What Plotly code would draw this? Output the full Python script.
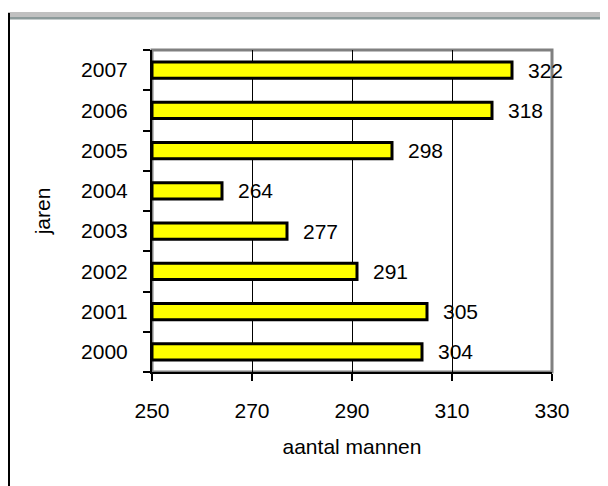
import plotly.graph_objects as go

# jaren en aantal mannen
jaren = ["2000", "2001", "2002", "2003", "2004", "2005", "2006", "2007"]
aantal_mannen = [304, 305, 291, 277, 264, 298, 318, 322]
x_ticks = [250, 270, 290, 310, 330]

basis = 250
FONT = dict(family="Arial, Liberation Sans, sans-serif", size=21, color="black")

# de pagina heeft 8px marge, dus figuur iets kleiner
W, H = 600, 478
OFF = 8


def px_x(px):
    # vensterpixel -> paper (tekengebied 152..552)
    return (px - 152) / 400


def px_y(py):
    # vensterpixel -> paper (tekengebied 50..372)
    return (372 - py) / 322


fig = go.Figure()

fig.add_trace(go.Bar(
    y=jaren,
    x=[v - basis for v in aantal_mannen],
    base=basis,
    orientation="h",
    width=0.4,
    marker=dict(color="#ffff00", line=dict(color="black", width=3)),
    hoverinfo="skip",
))

# waarden naast de balken (y als index op de categorie-as)
for i, v in enumerate(aantal_mannen):
    fig.add_annotation(
        x=v, y=i, xref="x", yref="y",
        text=str(v), showarrow=False,
        xanchor="left", xshift=14,
        font=FONT,
    )

# rand van het tekengebied (grijs boven en rechts)
fig.add_shape(type="rect", xref="paper", yref="paper",
              x0=0, x1=1, y0=0, y1=1,
              line=dict(color="#808080", width=3), layer="below")

# kader van het werkblad
fig.add_shape(type="rect", xref="paper", yref="paper",
              x0=px_x(8), x1=px_x(606), y0=px_y(17), y1=px_y(12),
              fillcolor="#c0c0c0", line=dict(width=0))
fig.add_shape(type="rect", xref="paper", yref="paper",
              x0=px_x(9), x1=px_x(602), y0=px_y(19.5), y1=px_y(17),
              fillcolor="#8c9a9a", line=dict(width=0))
fig.add_shape(type="rect", xref="paper", yref="paper",
              x0=px_x(601), x1=px_x(603), y0=px_y(490), y1=px_y(17),
              fillcolor="#8c9a9a", line=dict(width=0))
fig.add_shape(type="rect", xref="paper", yref="paper",
              x0=px_x(603), x1=px_x(608), y0=px_y(490), y1=px_y(12),
              fillcolor="#d4d4d4", line=dict(width=0))
fig.add_shape(type="rect", xref="paper", yref="paper",
              x0=px_x(8), x1=px_x(10), y0=px_y(490), y1=px_y(13),
              fillcolor="black", line=dict(width=0))

fig.update_layout(
    width=W,
    height=H,
    margin=dict(l=152 - OFF, r=56, t=50 - OFF, b=114),
    paper_bgcolor="white",
    plot_bgcolor="white",
    showlegend=False,
    font=FONT,
)

fig.update_xaxes(
    range=[250, 330],
    tickvals=x_ticks,
    ticks="outside",
    ticklen=7,
    tickwidth=1.5,
    tickcolor="black",
    showline=True,
    linecolor="black",
    linewidth=2,
    showgrid=True,
    gridcolor="black",
    gridwidth=1,
    zeroline=False,
    ticklabelstandoff=12,
    title=dict(text="aantal mannen", font=FONT, standoff=18),
)

fig.update_yaxes(
    type="category",
    categoryorder="array",
    categoryarray=jaren,
    range=[-0.5, 7.5],
    tickson="boundaries",
    ticks="outside",
    ticklen=7,
    tickwidth=1.5,
    tickcolor="black",
    showline=True,
    linecolor="black",
    linewidth=2,
    showgrid=False,
    ticklabelstandoff=18,
    title=dict(text="jaren", font=FONT, standoff=25),
)

fig.write_html("out.html")
